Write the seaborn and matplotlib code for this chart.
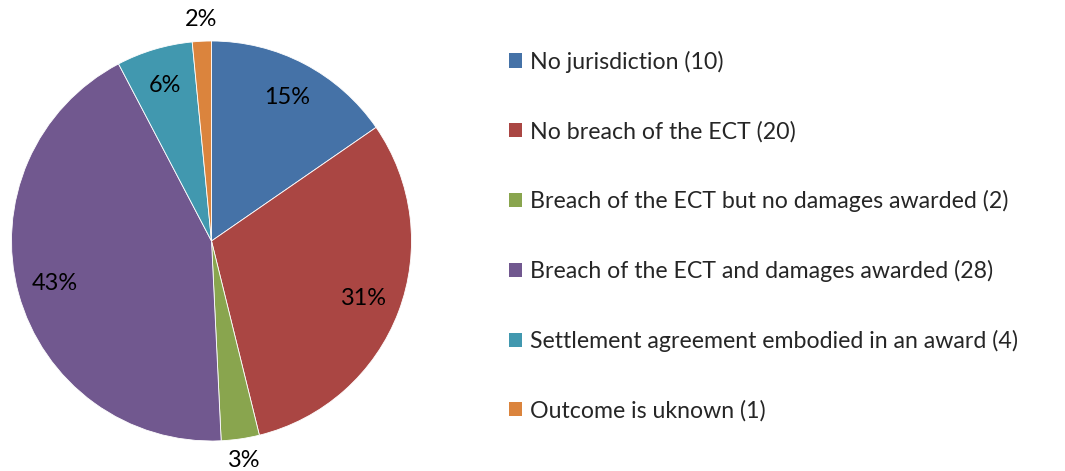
import matplotlib
matplotlib.use("Agg")
import matplotlib.pyplot as plt
import seaborn as sns
import numpy as np
from matplotlib.patches import Patch

categories = [
    "No jurisdiction (10)",
    "No breach of the ECT (20)",
    "Breach of the ECT but no damages awarded (2)",
    "Breach of the ECT and damages awarded (28)",
    "Settlement agreement embodied in an award (4)",
    "Outcome is uknown (1)",
]
counts = [10, 20, 2, 28, 4, 1]
colors = ["#4572A7", "#AA4643", "#89A54E", "#71588F", "#4198AF", "#DB843D"]

sns.set_theme(style="white")
plt.rcParams["font.family"] = ["Lato", "DejaVu Sans"]

W, H = 1065, 471
fig = plt.figure(figsize=(W / 100, H / 100), dpi=100)
fig.patch.set_facecolor("white")

cx, cy, R = 211.5, 471 - 241, 200
ax = fig.add_axes([(cx - R) / W, (cy - R) / H, 2 * R / W, 2 * R / H])

wedges, texts, autotexts = ax.pie(
    counts, colors=colors, startangle=90, counterclock=False,
    autopct="%.0f%%", pctdistance=0.81,
    wedgeprops=dict(edgecolor="white", linewidth=0.6),
    textprops=dict(fontsize=16.9, color="black"),
)
total = sum(counts)
for w, t, c in zip(wedges, autotexts, counts):
    if c / total < 0.05:
        ang = np.deg2rad((w.theta1 + w.theta2) / 2)
        t.set_position((1.11 * np.cos(ang), 1.11 * np.sin(ang)))
        t.set_clip_on(False)
ax.set_xlim(-1, 1)
ax.set_ylim(-1, 1)
ax.set_aspect("equal")
ax.axis("off")

handles = [Patch(facecolor=c, edgecolor="none") for c in colors]
fig.legend(
    handles, categories, loc="center left",
    bbox_to_anchor=(509 / W, 1 - 236 / H),
    frameon=False, fontsize=16.65, borderpad=0, borderaxespad=0,
    handlelength=0.58, handleheight=0.58, handletextpad=0.33,
    labelspacing=2.07,
)

fig.savefig("out.png", dpi=100, facecolor="white")
